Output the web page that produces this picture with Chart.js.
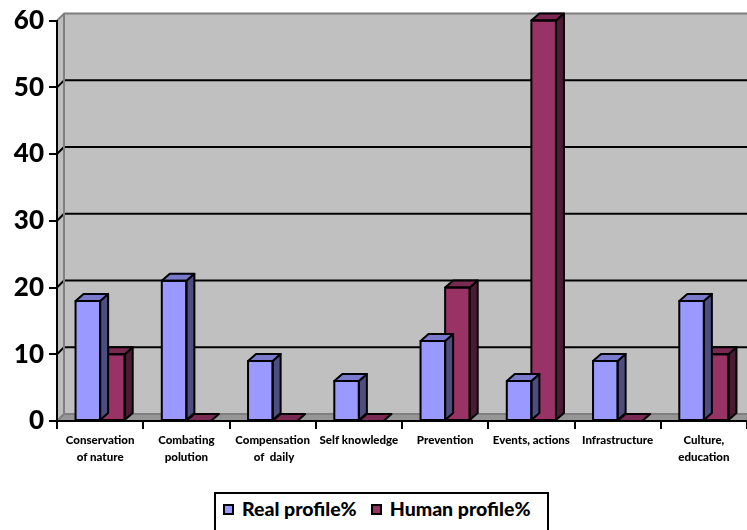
<!DOCTYPE html>
<html>
<head>
<meta charset="utf-8">
<script src="https://cdn.jsdelivr.net/npm/chart.js@4/dist/chart.umd.min.js"></script>
<style>
  html, body { margin: 0; padding: 0; background: #fff; overflow: hidden; }
  #wrap { position: relative; width: 747px; height: 530px; }
  #legend {
    position: absolute; left: 214px; top: 492px; width: 335px; height: 46px;
    box-sizing: border-box; border: 2px solid #000; background: #fff;
    padding: 5px 0 0 7px; display: flex; align-items: flex-start; white-space: nowrap;
    font: 900 19.5px Lato, sans-serif; color: #000; line-height: 20px;
  }
  #legend span { display: inline-flex; align-items: center; margin-right: 14px; }
  #legend i { display: inline-block; width: 7px; height: 7px; border: 2px solid #000; margin-right: 8px; }
</style>
</head>
<body>
<div id="wrap">
  <canvas id="myChart" width="747" height="530"></canvas>
  <div id="legend"></div>
</div>
<script>
// datos del gráfico
const categories = [
  ['Conservation', 'of nature'],
  ['Combating', 'polution'],
  ['Compensation', ' of  daily'],
  'Self knowledge',
  'Prevention',
  'Events, actions',
  'Infrastructure',
  ['Culture,', 'education']
];
const realProfile = [18, 21, 9, 6, 12, 6, 9, 18];
const humanProfile = [10, 0, 0, 0, 20, 60, 0, 10];
const yTicks = [0, 10, 20, 30, 40, 50, 60];
const seriesNames = ['Real profile%', 'Human profile%'];

const colors = [
  { front: '#9999FF', side: '#4D4D80', top: '#7A7ACC' },
  { front: '#993366', side: '#4D1A33', top: '#7A2952' }
];
const wallDepth = 7;
const barDepth = { x: 8, y: 7 };

function poly(ctx, pts, fill, stroke, lw) {
  ctx.beginPath();
  ctx.moveTo(pts[0][0], pts[0][1]);
  for (let i = 1; i < pts.length; i++) ctx.lineTo(pts[i][0], pts[i][1]);
  ctx.closePath();
  if (fill) { ctx.fillStyle = fill; ctx.fill(); }
  if (stroke) { ctx.strokeStyle = stroke; ctx.lineWidth = lw; ctx.stroke(); }
}

// paredes, piso y líneas de la cuadrícula
const threeD = {
  id: 'threeD',
  beforeDraw(chart) {
    const { ctx, chartArea: a, scales: { y } } = chart;
    const d = wallDepth;
    ctx.save();
    ctx.lineJoin = 'round';
    ctx.fillStyle = '#C0C0C0';
    ctx.fillRect(a.left + d, a.top - d, a.right - a.left + d, a.bottom - a.top);
    poly(ctx, [[a.left, a.top], [a.left + d, a.top - d], [a.left + d, a.bottom - d], [a.left, a.bottom]], '#BEBEBE');
    poly(ctx, [[a.left, a.bottom], [a.left + d, a.bottom - d], [a.right + d, a.bottom - d], [a.right, a.bottom]], '#969696', '#7F7F7F', 2);

    yTicks.forEach(v => {
      const py = y.getPixelForValue(v);
      if (v === 0) return;
      const col = v === 60 ? '#7F7F7F' : '#000';
      ctx.beginPath();
      ctx.moveTo(a.left, py);
      ctx.lineTo(a.left + d, py - d);
      ctx.lineTo(a.right + d, py - d);
      ctx.strokeStyle = col;
      ctx.lineWidth = 2;
      ctx.stroke();
    });
    ctx.beginPath();
    ctx.moveTo(a.left + d, a.top - d);
    ctx.lineTo(a.left + d, a.bottom - d);
    ctx.strokeStyle = '#7F7F7F';
    ctx.lineWidth = 2;
    ctx.stroke();
    ctx.restore();
  },
  afterDatasetDraw(chart, args) {
    const { ctx } = chart;
    const c = colors[args.index];
    const dx = barDepth.x, dy = barDepth.y;
    ctx.save();
    ctx.lineJoin = 'round';
    args.meta.data.forEach(bar => {
      const { x, y, base, width } = bar.getProps(['x', 'y', 'base', 'width'], true);
      const l = x - width / 2, r = x + width / 2;
      if (base - y > 0.5) {
        poly(ctx, [[r, y], [r + dx, y - dy], [r + dx, base - dy], [r, base]], c.side, '#000', 2);
      }
      poly(ctx, [[l, y], [l + dx, y - dy], [r + dx, y - dy], [r, y]], c.top, '#000', 2);
      if (base - y > 0.5) {
        ctx.strokeStyle = '#000';
        ctx.lineWidth = 2;
        ctx.strokeRect(l, y, width, base - y);
      }
    });
    ctx.restore();
  }
};

const ctx = document.getElementById('myChart');
new Chart(ctx.getContext('2d'), {
  type: 'bar',
  data: {
    labels: categories,
    datasets: [
      { label: seriesNames[0], data: realProfile, backgroundColor: colors[0].front, borderWidth: 0 },
      { label: seriesNames[1], data: humanProfile, backgroundColor: colors[1].front, borderWidth: 0 }
    ]
  },
  options: {
    responsive: false,
    animation: false,
    devicePixelRatio: 1,
    layout: { padding: { top: 20, right: 0, bottom: 39, left: 0 } },
    datasets: { bar: { categoryPercentage: 0.57, barPercentage: 1 } },
    plugins: {
      legend: { display: false },
      tooltip: { enabled: false }
    },
    scales: {
      x: {
        grid: { display: true, drawOnChartArea: false, drawTicks: true, tickLength: 8, color: '#000', lineWidth: 2, offset: true },
        border: { display: true, color: '#000', width: 2 },
        ticks: {
          color: '#000', autoSkip: false, maxRotation: 0, padding: 2,
          font: { family: 'Lato', weight: '900', size: 11.5, lineHeight: 1.55 }
        },
        afterFit: s => { s.height = 70; }
      },
      y: {
        min: 0,
        max: 60,
        afterBuildTicks: s => { s.ticks = yTicks.map(v => ({ value: v })); },
        grid: { display: true, drawOnChartArea: false, drawTicks: true, tickLength: 8, color: '#000', lineWidth: 2 },
        border: { display: true, color: '#000', width: 2 },
        ticks: { color: '#000', padding: 5, font: { family: 'Lato', weight: '900', size: 26 } },
        afterFit: s => { s.width = 57; }
      }
    }
  },
  plugins: [threeD]
});

// leyenda
const legend = document.getElementById('legend');
seriesNames.forEach((name, i) => {
  const item = document.createElement('span');
  const box = document.createElement('i');
  box.style.background = colors[i].front;
  item.appendChild(box);
  item.appendChild(document.createTextNode(name));
  legend.appendChild(item);
});
</script>
</body>
</html>
